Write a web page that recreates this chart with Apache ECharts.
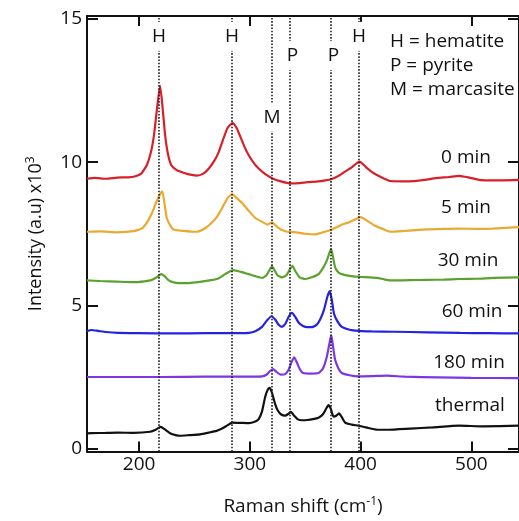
<!DOCTYPE html>
<html>
<head>
<meta charset="utf-8">
<script src="https://cdn.jsdelivr.net/npm/echarts@6/dist/echarts.min.js"></script>
<style>
html,body{margin:0;padding:0;background:#fff;}
#c{width:519px;height:521px;}
</style>
</head>
<body>
<div id="c"></div>
<script>
// ---- data (Raman shift cm^-1, intensity x10^3) ----
const spec0min = [[153,9.42],[160,9.45],[170,9.42],[180,9.46],[190,9.47],[196,9.5],[202,9.6],[207,9.9],[211,10.4],[213.5,10.95],[216,11.8],[219,12.66],[221,12.0],[223.5,10.95],[226,10.3],[229,9.9],[233,9.75],[237,9.67],[244,9.58],[252,9.53],[258,9.6],[263,9.78],[268,10.05],[272,10.36],[276,10.8],[280,11.2],[284.5,11.36],[288,11.2],[291,10.93],[295,10.55],[299,10.24],[304,9.95],[308,9.78],[314,9.58],[320,9.44],[328,9.33],[337,9.26],[345,9.27],[352,9.3],[360,9.32],[368,9.36],[374,9.41],[380,9.52],[386,9.67],[392,9.82],[399,10.02],[405,9.82],[412,9.61],[420,9.45],[427,9.34],[437,9.33],[448,9.34],[458,9.38],[468,9.44],[480,9.48],[489,9.52],[498,9.46],[507,9.38],[520,9.36],[543,9.38]];
const spec5min = [[153,7.57],[165,7.58],[180,7.55],[195,7.59],[203,7.7],[208,7.95],[212,8.25],[215.5,8.6],[219,8.88],[221,8.98],[223,8.55],[225,8.05],[228,7.8],[231,7.65],[240,7.6],[252,7.57],[260,7.7],[266,7.9],[270,8.07],[275,8.4],[280,8.75],[284,8.88],[288,8.75],[293,8.57],[299,8.3],[305,8.05],[311,7.92],[316,7.82],[320,7.9],[323,7.8],[328,7.65],[335,7.56],[342,7.55],[350,7.5],[359,7.48],[366,7.55],[374,7.65],[382,7.8],[388,7.88],[394,7.98],[400,8.08],[406,7.95],[412,7.8],[420,7.67],[427,7.57],[440,7.6],[459,7.65],[475,7.67],[489,7.68],[505,7.67],[519,7.68],[543,7.73]];
const spec30min = [[153,5.87],[165,5.85],[180,5.83],[195,5.81],[205,5.84],[211,5.88],[216,5.98],[220,6.09],[223,6.02],[226,5.9],[229,5.83],[235,5.78],[245,5.78],[255,5.82],[265,5.88],[272,5.95],[278,6.1],[285,6.23],[292,6.17],[299,6.09],[305,6.02],[311,5.96],[315,6.05],[318,6.25],[320,6.35],[322,6.25],[325,6.05],[329,5.98],[333,6.05],[336,6.25],[338.5,6.38],[341,6.2],[345,5.98],[350,5.92],[356,5.98],[362,6.09],[366,6.3],[369.5,6.56],[372,6.85],[373.5,6.96],[375,6.7],[377,6.33],[380,6.15],[383,6.09],[390,6.03],[398,6.0],[407,5.98],[415,5.96],[422,5.9],[430,5.87],[445,5.88],[460,5.89],[475,5.9],[489,5.92],[505,5.93],[520,5.96],[543,5.98]];
const spec60min = [[153,4.1],[157,4.14],[163,4.11],[170,4.07],[181,4.04],[200,4.03],[230,4.02],[260,4.03],[290,4.03],[299,4.04],[305,4.1],[311,4.25],[315,4.45],[319.5,4.62],[323,4.5],[326,4.32],[329,4.25],[332,4.35],[335,4.6],[338,4.74],[341,4.6],[344,4.4],[348,4.28],[352,4.24],[357,4.25],[361,4.35],[364,4.55],[367,4.85],[370,5.3],[372,5.5],[374,5.2],[376,4.71],[379,4.45],[383,4.25],[390,4.15],[398,4.11],[410,4.09],[430,4.08],[460,4.06],[490,4.04],[515,4.03],[543,4.02]];
const spec180min = [[153,2.5],[180,2.5],[220,2.5],[260,2.51],[300,2.51],[311,2.52],[315,2.58],[318,2.7],[321,2.78],[324,2.68],[328,2.58],[332,2.6],[335,2.75],[337.5,3.0],[340,3.19],[342,3.05],[345,2.78],[348,2.64],[355,2.62],[362,2.64],[366,2.8],[369.5,3.21],[372,3.7],[373.5,3.96],[375,3.6],[377,3.1],[380,2.8],[383,2.64],[390,2.56],[398,2.52],[410,2.53],[424,2.55],[440,2.51],[470,2.49],[500,2.47],[543,2.46]];
const specThermal = [[153,0.53],[157,0.54],[170,0.55],[181,0.56],[195,0.55],[210,0.59],[215,0.66],[219.5,0.76],[223,0.68],[228,0.54],[233,0.47],[237,0.45],[245,0.47],[255,0.5],[263,0.56],[270,0.62],[275,0.7],[280,0.82],[284,0.91],[292,0.9],[299,0.89],[305,0.95],[308,1.03],[311,1.3],[314,1.83],[316.5,2.08],[318,2.12],[320,1.95],[322.5,1.6],[325,1.35],[328,1.2],[332,1.15],[335,1.22],[337,1.28],[340,1.15],[343,1.03],[347,0.99],[352,1.0],[357,1.03],[362,1.08],[366,1.2],[369,1.4],[371,1.52],[373,1.4],[375.5,1.12],[378,1.15],[380.5,1.23],[383,1.1],[386,0.91],[392,0.84],[398,0.8],[405,0.74],[415,0.66],[425,0.66],[445,0.7],[465,0.74],[489,0.8],[510,0.78],[543,0.8]];

const seriesNames = ['0 min','5 min','30 min','60 min','180 min','thermal'];
const peakShifts = [218, 284, 320, 336, 373, 398];
const peakLetters = ['H','H','M','P','P','H'];
const xTicks = [200, 300, 400, 500];
const yTicks = [0, 5, 10, 15];
const legendLines = ['H = hematite','P = pyrite','M = marcasite'];

// ---- styling / layout ----
const colors = ['#d8202a','#eba932','#5ba12e','#2424e0','#7c36e6','#111111'];
const FONT = 'Open Sans';
const letterLevels = [14.39, 14.39, 11.57, 13.72, 13.72, 14.39];
const letterOffsetX = [0, 0, 0, 2.5, 2.5, 0.5];
const seriesLabelPos = [[466,158],[466,208],[468,261],[472,312],[469,363],[470,406]];

const allSpecs = [spec0min, spec5min, spec30min, spec60min, spec180min, specThermal];

const series = allSpecs.map((d, i) => ({
  type: 'line', name: seriesNames[i], data: d, showSymbol: false,
  smooth: 0.18, lineStyle: {color: colors[i], width: 2.2}, z: 3,
  silent: true
}));

series[0].markLine = {
  silent: true, symbol: 'none',
  lineStyle: {color: '#222', type: [1.6, 1.6], width: 1.6},
  label: {show: false},
  data: peakShifts.map(v => ({xAxis: v}))
};

series.push({
  type: 'scatter', symbolSize: 0, z: 10, silent: true,
  itemStyle: {color: '#fff', opacity: 1},
  data: peakShifts.map((v, i) => [v + letterOffsetX[i], letterLevels[i], peakLetters[i]]),
  label: {
    show: true, position: 'inside', formatter: p => p.value[2],
    fontFamily: FONT, fontSize: 19, color: '#111',
    textBorderWidth: 0, textBorderColor: 'transparent',
    backgroundColor: '#fff', padding: [6, 2, 4, 2]
  }
});

const graphics = [];
seriesNames.forEach((n, i) => {
  graphics.push({type: 'text', x: seriesLabelPos[i][0], y: seriesLabelPos[i][1],
    style: {text: n, font: '19px "' + FONT + '"', fill: '#111', textAlign: 'center', textVerticalAlign: 'middle'}});
});
legendLines.forEach((t, i) => {
  graphics.push({type: 'text', x: 390, y: 42 + i * 24,
    style: {text: t, font: '19px "' + FONT + '"', fill: '#111', textAlign: 'left', textVerticalAlign: 'middle'}});
});

const axisLineStyle = {color: '#111', width: 2};

const chart = echarts.init(document.getElementById('c'), null, {renderer: 'canvas'});
chart.setOption({
  animation: false,
  backgroundColor: '#fff',
  grid: {left: 87, top: 16, right: -9, bottom: 65, containLabel: false},
  xAxis: [{
    type: 'value', min: 153, max: 543, position: 'bottom',
    axisLine: {show: true, onZero: false, lineStyle: axisLineStyle},
    axisTick: {show: true, inside: true, length: 10, lineStyle: axisLineStyle, customValues: xTicks},
    axisLabel: {show: true, margin: 4, fontFamily: FONT, fontSize: 19, color: '#111', customValues: xTicks},
    splitLine: {show: false},
    name: 'Raman shift (cm{sup|-1})', nameLocation: 'middle', nameGap: 44,
    nameTextStyle: {fontFamily: FONT, fontSize: 19, color: '#111',
      rich: {sup: {fontFamily: FONT, fontSize: 12, color: '#111', verticalAlign: 'top', padding: [0,0,10,0]}}}
  }, {
    type: 'value', min: 153, max: 543, position: 'top',
    axisLine: {show: true, onZero: false, lineStyle: axisLineStyle},
    axisTick: {show: true, inside: true, length: 10, lineStyle: axisLineStyle, customValues: xTicks},
    axisLabel: {show: false}, splitLine: {show: false}
  }],
  yAxis: [{
    type: 'value', min: -0.1, max: 15.1, position: 'left',
    axisLine: {show: true, onZero: false, lineStyle: axisLineStyle},
    axisTick: {show: true, inside: true, length: 11, lineStyle: axisLineStyle, customValues: yTicks},
    axisLabel: {show: true, margin: 5, fontFamily: FONT, fontSize: 19, color: '#111', customValues: yTicks},
    splitLine: {show: false},
    name: 'Intensity (a.u) x10{sup|3}', nameLocation: 'middle', nameGap: 40, nameRotate: 90,
    nameTextStyle: {fontFamily: FONT, fontSize: 18, color: '#111',
      rich: {sup: {fontFamily: FONT, fontSize: 12, color: '#111', verticalAlign: 'top', padding: [0,0,10,0]}}}
  }, {
    type: 'value', min: -0.1, max: 15.1, position: 'right',
    axisLine: {show: true, onZero: false, lineStyle: axisLineStyle},
    axisTick: {show: true, inside: true, length: 11, lineStyle: axisLineStyle, customValues: yTicks},
    axisLabel: {show: false}, splitLine: {show: false}
  }],
  series: series,
  graphic: graphics
});
</script>
</body>
</html>
